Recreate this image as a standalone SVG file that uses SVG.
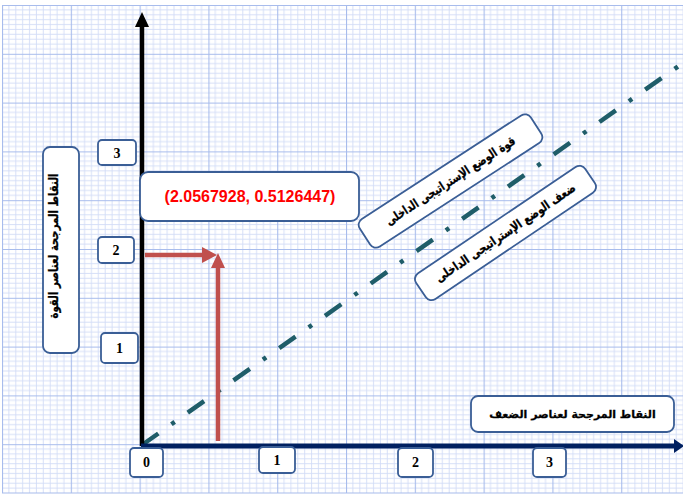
<svg xmlns="http://www.w3.org/2000/svg" width="683" height="497" viewBox="0 0 683 497">
<defs>
<pattern id="grid" x="2" y="5" width="68.8" height="48.8" patternUnits="userSpaceOnUse">
<path d="M6.88 0V48.8M13.76 0V48.8M20.64 0V48.8M27.52 0V48.8M34.4 0V48.8M41.28 0V48.8M48.16 0V48.8M55.04 0V48.8M61.92 0V48.8M0 4.88H68.8M0 9.76H68.8M0 14.64H68.8M0 19.52H68.8M0 24.4H68.8M0 29.28H68.8M0 34.16H68.8M0 39.04H68.8M0 43.92H68.8" stroke="#d2dcf6" stroke-width="0.9" fill="none"/>
<path d="M0 0.5H68.8M0.5 0V48.8" stroke="#a8bcec" stroke-width="1.2" fill="none"/>
</pattern>
<style>
.box{fill:#ffffff;stroke:#3a5e96;stroke-width:1.8}
.num{font-family:"Liberation Serif",serif;font-weight:bold;font-size:14px;fill:#000;text-anchor:middle}
.ar{font-family:"DejaVu Sans","Noto Sans",sans-serif;font-weight:bold;font-size:12.5px;fill:#000;stroke:#000;stroke-width:0.3;text-anchor:middle}
.coord{font-family:"Liberation Sans",Arial,sans-serif;font-weight:bold;font-size:16px;fill:#ff0000;text-anchor:middle}
</style>
</defs>
<rect x="0" y="0" width="683" height="497" fill="#ffffff"/>
<rect x="2" y="5" width="681" height="488" fill="url(#grid)"/>
<path d="M2 493H683" stroke="#a8bcec" stroke-width="1.2"/>

<g id="connectors">
<path d="M142 445L683 63" stroke="#1f5d69" stroke-width="4.5" stroke-dasharray="20 16 4 16" fill="none"/>
<path d="M142 446V26" stroke="#000" stroke-width="4.5"/>
<polygon points="142,12 135,27 149,27" fill="#000"/>
<path d="M141 446H676" stroke="#002060" stroke-width="5"/>
<polygon points="684,446 674,439 674,453" fill="#002060"/>
<path d="M145 255H204" stroke="#c0504d" stroke-width="4.5"/>
<polygon points="217,255 202,247 202,263" fill="#c0504d"/>
<path d="M218 441V267" stroke="#c0504d" stroke-width="4.5"/>
<polygon points="218,253 211,268 225,268" fill="#c0504d"/>
</g>

<g id="y-axis-label">
<rect class="box" x="43" y="147" width="36" height="206" rx="7"/>
<text class="ar" transform="translate(58,246) rotate(-90)" direction="rtl" textLength="145" lengthAdjust="spacingAndGlyphs">النقاط المرجحة لعناصر القوة</text>
</g>
<g id="y3"><rect class="box" x="98" y="140" width="38" height="25" rx="4"/><text class="num" x="117" y="158">3</text></g>
<g id="y2"><rect class="box" x="98" y="237" width="36" height="26" rx="4"/><text class="num" x="116" y="255">2</text></g>
<g id="y1"><rect class="box" x="101" y="333" width="37" height="30" rx="4"/><text class="num" x="119.5" y="353">1</text></g>

<g id="coord">
<rect class="box" x="140" y="172" width="219" height="49" rx="8"/>
<text class="coord" x="250" y="202">(2.0567928, 0.5126447)</text>
</g>

<g id="strength">
<g transform="translate(450.5,181) rotate(-33)">
<rect class="box" x="-102" y="-16.5" width="204" height="33" rx="7"/>
<text class="ar" x="0" y="4" direction="rtl" textLength="152" lengthAdjust="spacingAndGlyphs">قوة الوضع الإستراتيجى  الداخلى</text>
</g>
</g>
<g id="weakness">
<g transform="translate(505.5,233) rotate(-34)">
<rect class="box" x="-102" y="-15.5" width="204" height="31" rx="7"/>
<text class="ar" x="0" y="4" direction="rtl" textLength="166" lengthAdjust="spacingAndGlyphs">ضعف الوضع الإستراتيجى  الداخلى</text>
</g>
</g>

<g id="x-axis-label">
<rect class="box" x="471" y="396" width="203" height="36" rx="7"/>
<text class="ar" x="572.5" y="418" direction="rtl" style="font-size:11px">النقاط المرجحة لعناصر الضعف</text>
</g>
<g id="x0"><rect class="box" x="130" y="448" width="33" height="29" rx="4"/><text class="num" x="146.5" y="467">0</text></g>
<g id="x1"><rect class="box" x="259" y="447" width="36" height="26" rx="4"/><text class="num" x="277" y="465">1</text></g>
<g id="x2"><rect class="box" x="398" y="448" width="35" height="29" rx="4"/><text class="num" x="415.5" y="467">2</text></g>
<g id="x3"><rect class="box" x="533" y="448" width="33" height="29" rx="4"/><text class="num" x="549.5" y="467">3</text></g>
</svg>
